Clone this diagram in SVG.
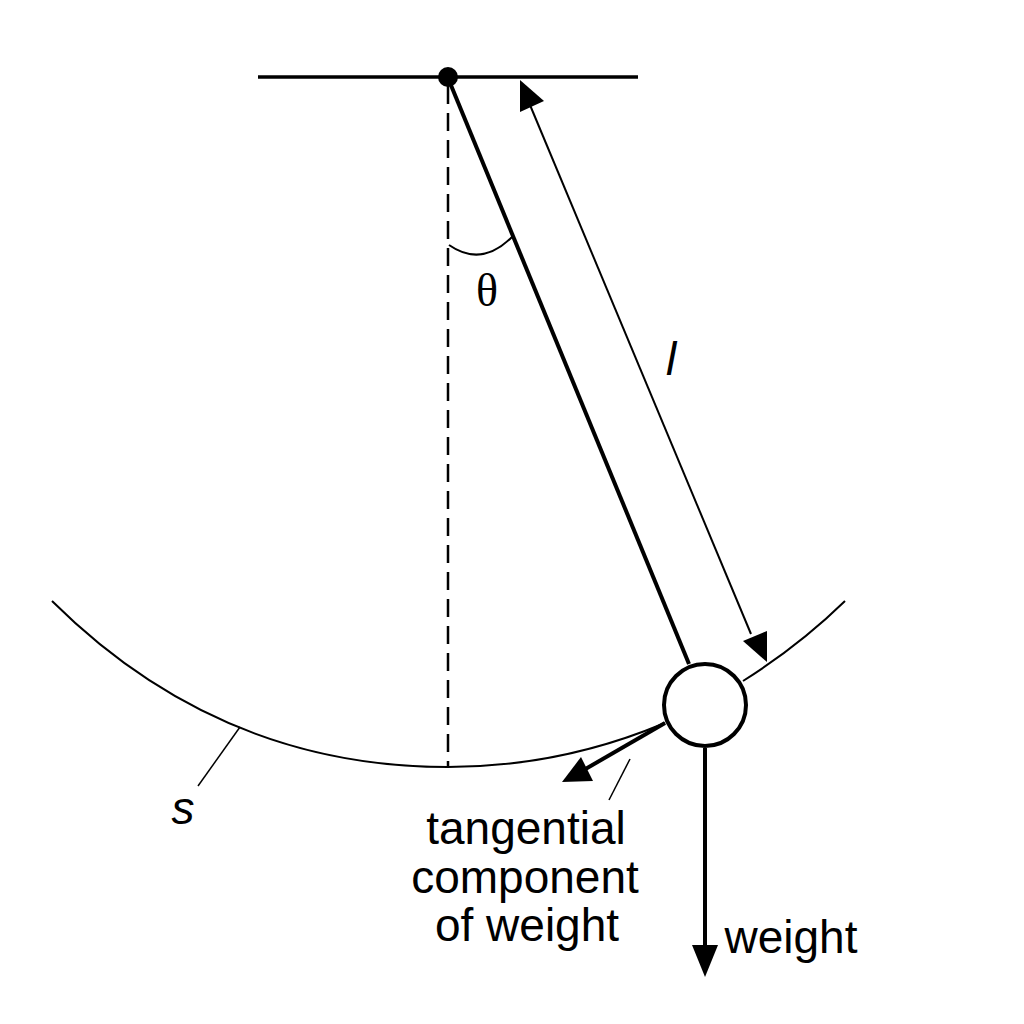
<svg xmlns="http://www.w3.org/2000/svg" width="1024" height="1024" viewBox="0 0 1024 1024">
<style>
.l{fill:none;stroke:#000;stroke-linecap:butt}
.t{font-family:"Liberation Sans",Arial,sans-serif;font-size:46px;fill:#000;text-anchor:middle}
.h{fill:#000;stroke:none}
</style>
<rect width="1024" height="1024" fill="#fff"/>
<g id="connectors">
<path class="l" stroke-width="3.5" d="M258 77H638"/>
<path class="l" stroke-width="2.5" stroke-dasharray="18 9" d="M448 86V767"/>
<path class="l" stroke-width="4" d="M448 78L689 664"/>
<path class="l" stroke-width="2" d="M52 601Q219 767 448 767Q560 767 665 723"/>
<path class="l" stroke-width="2" d="M743 681Q800 645 845 601"/>
<path class="l" stroke-width="2" d="M449 245Q482 268 513 236"/>
<path class="l" stroke-width="2" d="M530 105L751 634"/>
<path class="h" d="M520 80L544 101L520 112Z"/>
<path class="h" d="M767 662L743 641L767 631Z"/>
<path class="l" stroke-width="4" d="M665 723L582 771"/>
<path class="h" d="M562 782L581 757L593 781Z"/>
<path class="l" stroke-width="4" d="M705 748V950"/>
<path class="h" d="M705 977L692 945H718Z"/>
<path class="l" stroke-width="1.5" d="M240 727L198 786"/>
<path class="l" stroke-width="1.5" d="M630 759L609 800"/>
</g>
<g id="pivot"><circle cx="448" cy="77" r="10" fill="#000"/></g>
<g id="bob"><circle cx="705" cy="705" r="41" fill="#fff" stroke="#000" stroke-width="4"/></g>
<g id="labels">
<text x="487" y="306" style="font-family:'Liberation Serif',serif;font-size:46px;text-anchor:middle">θ</text>
<text x="671" y="375" class="t" style="font-style:italic">l</text>
<text x="183" y="824" class="t" style="font-style:italic">s</text>
<text x="526" y="844" class="t">tangential</text>
<text x="525" y="893" class="t">component</text>
<text x="527" y="941" class="t">of weight</text>
<text x="791" y="953" class="t">weight</text>
</g>
</svg>
